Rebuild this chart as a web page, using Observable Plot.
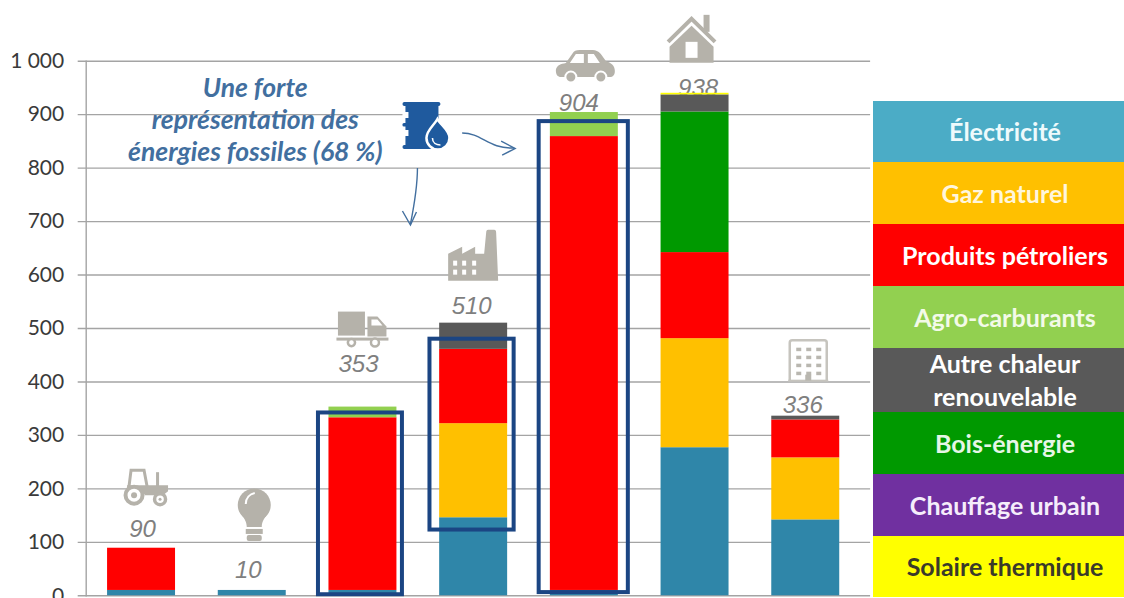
<!DOCTYPE html>
<html lang="fr">
<head>
<meta charset="utf-8">
<script src="https://cdn.jsdelivr.net/npm/d3@7"></script>
<script src="https://cdn.jsdelivr.net/npm/@observablehq/plot@0.6"></script>
<style>
html,body{margin:0;padding:0;background:#fff;overflow:hidden}
#wrap{position:relative;width:1124px;height:598px}
#wrap svg{display:block;max-width:none}
#legend{position:absolute;left:873px;top:101px;width:251px;font-family:Lato,sans-serif;font-weight:700;font-size:25px}
#legend div{display:flex;align-items:center;justify-content:center;text-align:center;box-sizing:border-box;padding-left:13px;line-height:33px}
</style>
</head>
<body>
<div id="wrap"><div id="chart"></div><div id="legend"></div></div>
<script>
// ---------- data ----------
const categories = ["Agriculture","Électricité spécifique","Transport de marchandises","Industrie","Transport de personnes","Résidentiel","Tertiaire"];
const energies = ["Électricité","Gaz naturel","Produits pétroliers","Agro-carburants","Autre chaleur renouvelable","Bois-énergie","Chauffage urbain","Solaire thermique"];
const electricite   = [10,10,10,146,10,277,142];
const gazNaturel    = [0,0,0,176,0,204,116];
const petrole       = [79,0,323,139,849,161,71];
const agro          = [0,0,20,0,45,0,0];
const autreChaleur  = [0,0,0,49,0,32,7];
const boisEnergie   = [0,0,0,0,0,263,0];
const chauffage     = [0,0,0,0,0,0,0];
const solaire       = [0,0,0,0,0,3,0];
const totals        = [90,10,353,510,904,938,336];
const yTicks        = [0,100,200,300,400,500,600,700,800,900,1000];
const fossilBoxes   = [["Transport de marchandises",2,342],["Industrie",123,480],["Transport de personnes",6,887]];
const annotation    = "Une forte\nreprésentation des\nénergies fossiles (68 %)";

// ---------- styles ----------
const barColors    = ["#2f86a9","#ffc000","#ff0000","#92d050","#595959","#009900","#7030a0","#ffff00"];
const legendColors = ["#4bacc6","#ffc000","#ff0000","#92d050","#595959","#009900","#7030a0","#ffff00"];
const legendInk    = ["#eefafc","#fff6dc","#ffffff","#f3fae8","#ffffff","#e6f6e6","#f5edfb","#3a3a2a"];
const legendEdges  = [0,61,123,185,247,311,373,435,496];
const iconGrey = "#b5b2aa", navy = "#1b4583", inkBlue = "#426f9f";

// stacking order of the bars (bottom to top)
const stack = [[electricite,0],[gazNaturel,1],[petrole,2],[agro,3],[boisEnergie,5],[chauffage,6],[autreChaleur,4],[solaire,7]];
const rows = stack.flatMap(([vals,s])=>vals.map((value,i)=>({cat:categories[i],energy:energies[s],value}))).filter(d=>d.value>0);

// ---------- icons (local drawing, placed through the scales) ----------
const g = iconGrey;
const icons = {
 tractor:`<path d="M6 19L8 3H21L24 19" fill="none" stroke="${g}" stroke-width="3"/><rect x="33" y="5" width="3" height="14" fill="${g}"/><path d="M4 18H45V24L40 28H22L18 22H4Z" fill="${g}"/><circle cx="11" cy="28" r="8.5" fill="#fff" stroke="${g}" stroke-width="4"/><circle cx="11" cy="28" r="3" fill="${g}"/><circle cx="37" cy="32" r="5.5" fill="#fff" stroke="${g}" stroke-width="3.5"/><circle cx="37" cy="32" r="1.5" fill="${g}"/>`,
 bulb:`<circle cx="16.5" cy="17" r="16.5" fill="${g}"/><path d="M2 24C6 30 9 33 9 39H24C24 33 27 30 31 24Z" fill="${g}"/><rect x="8" y="41" width="17" height="5" fill="${g}"/><rect x="9" y="47" width="15" height="6" rx="2" fill="${g}"/><path d="M8 16C8 10 12 6 17 5" fill="none" stroke="#fff" stroke-width="2"/>`,
 truck:`<rect x="1.5" y="0" width="27" height="24" fill="${g}"/><path d="M31 5H41L50 15V25H31Z" fill="${g}"/><path d="M35 8H41L46 14H35Z" fill="#fff"/><rect x="0" y="26" width="52" height="3" fill="${g}"/><circle cx="15" cy="31" r="3.6" fill="#fff" stroke="${g}" stroke-width="2.5"/><circle cx="38.5" cy="31" r="4" fill="#fff" stroke="${g}" stroke-width="2.5"/>`,
 factory:`<path d="M0 51V24L14 17V24L27 17V24H36L38 3Q38 0 40 0H46Q48 0 48 3L50 51Z" fill="${g}"/><g fill="#fff"><rect x="5" y="31" width="4" height="5"/><rect x="14" y="31" width="4" height="5"/><rect x="24" y="31" width="4" height="5"/><rect x="5" y="40" width="4" height="5"/><rect x="14" y="40" width="4" height="5"/><rect x="24" y="40" width="4" height="5"/></g>`,
 car:`<path d="M0 20C1 15 5 14 10 13L17 3C18 1 20 0 24 0H37C40 0 42 1 45 4L50 11C55 13 59 15 59 21C59 25 57 27 54 27H5C2 27 0 25 0 20Z" fill="${g}"/><path d="M14 13L20 4H28V13Z M32 4H38L44 13H32Z" fill="#fff"/><circle cx="15" cy="27" r="5.5" fill="${g}" stroke="#fff" stroke-width="2"/><circle cx="45" cy="27" r="5.5" fill="${g}" stroke="#fff" stroke-width="2"/>`,
 house:`<rect x="37" y="0" width="6" height="17" fill="${g}"/><path d="M1.5 27L25 4L48.5 27" fill="none" stroke="${g}" stroke-width="4"/><path d="M3 32L25 11L47 32V48H3Z" fill="${g}"/><rect x="19" y="27" width="12" height="16" fill="#fff"/>`,
 building:`<path d="M1.5 42V4Q1.5 1.5 4 1.5H36Q38.5 1.5 38.5 4V42" fill="none" stroke="#c6c4be" stroke-width="2.5"/><rect x="0" y="41" width="40" height="2" fill="#c6c4be"/><g fill="#b9b7b0">${[9,17,25,33].flatMap(y=>[8,18,28].map(x=>`<rect x="${x}" y="${y}" width="5" height="3.5"/>`)).join("")}<rect x="17" y="36" width="6" height="6"/></g>`,
 barrel:`<g fill="#1f5a9e"><rect x="0" y="0" width="38" height="4" rx="2"/><rect x="0" y="43" width="38" height="4" rx="2"/><rect x="3" y="2" width="33" height="43"/><rect x="0" y="21" width="6" height="3.5" rx="1.5"/></g><path d="M0 10H6V16H0Z M0 28H6V34H0Z" fill="#fff"/><path d="M35 17C38 23 47 28 47 36A11.5 11.5 0 0 1 24 36C24 28 32 23 35 17Z" fill="#1f5a9e" stroke="#fff" stroke-width="2.5"/><path d="M30 36C30 41 34 43 38 43" fill="none" stroke="#fff" stroke-width="1.6"/>`
};
// placement relative to each category/total
const iconLayout = [
 ["tractor",categories[0],totals[0],-18,-80],
 ["bulb",categories[1],totals[1],-14,-102],
 ["truck",categories[2],totals[2],-26,-95],
 ["factory",categories[3],totals[3],-25,-93],
 ["car",categories[4],totals[4],-28,-62],
 ["house",categories[5],totals[5],-28,-79],
 ["building",categories[6],totals[6],-17,-77],
 ["barrel",categories[2],totals[4],40,-10]
];
const labelLayout = [[1,-18],[-4,-20],[-4.5,-42.6],[-2,-16.6],[-5.5,-9],[3,-6],[-3,-10.7]];

const place = (cat,val,dx,dy,inner) => (index,{x,y}) => {
  const n = d3.create("svg:g").attr("transform",`translate(${x(cat)+x.bandwidth()/2+dx},${y(val)+dy})`);
  n.html(inner);
  return n.node();
};
const arrowRight = `<path d="M0 0C20 0 26 16 52 15" fill="none" stroke="${inkBlue}" stroke-width="1.4"/><path d="M39 8L53 15.5L40 22" fill="none" stroke="${inkBlue}" stroke-width="1.4"/>`;
const arrowDown  = `<path d="M7 0C7 20 4 36 0 56" fill="none" stroke="${inkBlue}" stroke-width="1.4"/><path d="M-8 43L0 57L6 44" fill="none" stroke="${inkBlue}" stroke-width="1.4"/>`;

const boxInsets = {"Transport de marchandises":[-10.5,-5.5],"Industrie":[-9.7,-6.5],"Transport de personnes":[-11.2,-10]};

const chart = Plot.plot({
  width:1124, height:598,
  marginLeft:85.7, marginRight:263.4, marginTop:60.7, marginBottom:2.7,
  style:{background:"#fff",fontFamily:"Lato, sans-serif",overflow:"visible"},
  x:{domain:categories,paddingInner:0.386,paddingOuter:0.193,round:false,axis:null},
  y:{domain:[0,1000]},
  color:{domain:energies,range:barColors},
  marks:[
    Plot.ruleY(yTicks,{stroke:"#a4a4a4",strokeWidth:1.4,insetLeft:-8,insetRight:-9.5}),
    Plot.frame({anchor:"left",stroke:"#a4a4a4",strokeWidth:1.4}),
    Plot.axisY({ticks:yTicks,tickSize:0,tickPadding:22,label:null,fontSize:21,fill:"#3a3a3a",
      tickFormat:d=>d>=1000?d3.format(",")(d).replace(",","\u202f"):String(d)}),
    categories.map((c,i)=>Plot.text([totals[i]],{x:()=>c,y:d=>d,text:d=>String(d),dx:labelLayout[i][0],dy:labelLayout[i][1],
      fontSize:24,fontStyle:"italic",fill:"#7f7f7f",fontFamily:"Liberation Sans, sans-serif"})),
    Plot.barY(rows,{x:"cat",y:"value",fill:"energy"}),
    fossilBoxes.map(([cat,lo,hi])=>Plot.barY([{cat,lo,hi}],{x:"cat",y1:"lo",y2:"hi",fill:"none",stroke:navy,strokeWidth:4,
      insetLeft:boxInsets[cat][0],insetRight:boxInsets[cat][1]})),
    Plot.text([annotation],{x:()=>categories[1],y:()=>892,text:d=>d,dx:3,lineHeight:1.21,fontSize:26.5,fontWeight:700,fontStyle:"italic",fill:inkBlue}),
    iconLayout.map(([name,cat,val,dx,dy])=>place(cat,val,dx,dy,icons[name])),
    place(categories[3],totals[4],-11,21,arrowRight),
    place(categories[2],totals[4],48,56,arrowDown)
  ]
});
document.getElementById("chart").appendChild(chart);

// ---------- legend ----------
const legend = document.getElementById("legend");
energies.forEach((e,i)=>{
  const d = document.createElement("div");
  d.style.background = legendColors[i];
  d.style.color = legendInk[i];
  d.style.height = (legendEdges[i+1]-legendEdges[i])+"px";
  d.textContent = e;
  if(i===4){d.textContent="";d.innerHTML="Autre chaleur<br>renouvelable";}
  legend.appendChild(d);
});
</script>
</body>
</html>
